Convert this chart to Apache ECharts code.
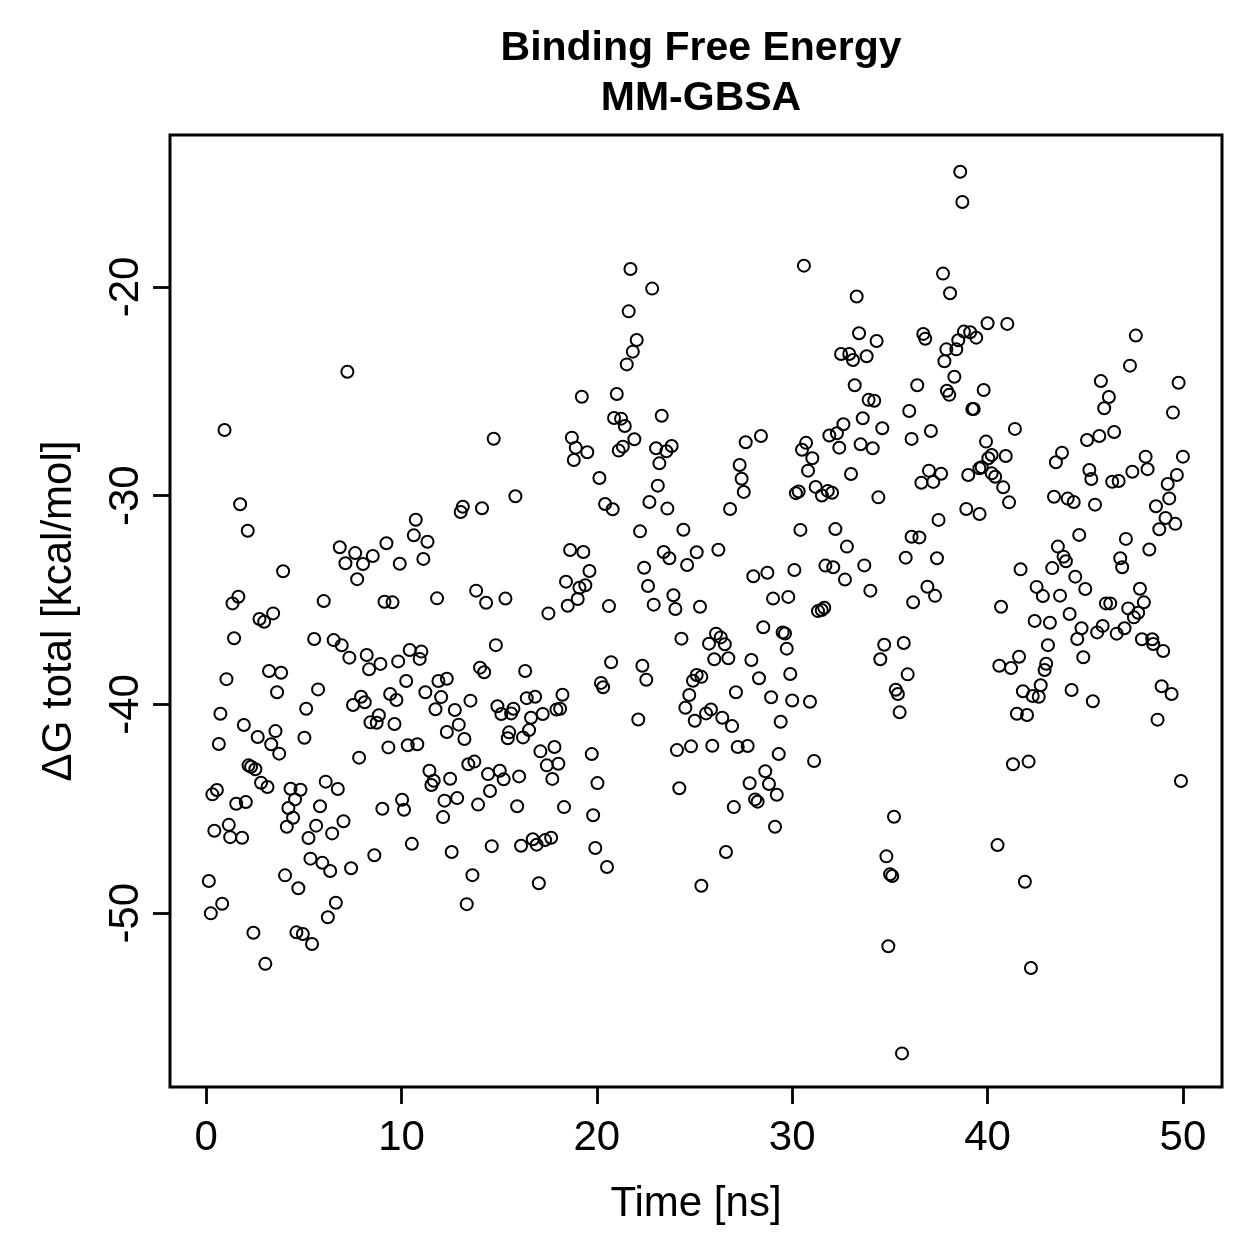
<!DOCTYPE html>
<html>
<head>
<meta charset="utf-8">
<script src="https://cdn.jsdelivr.net/npm/echarts@6/dist/echarts.min.js"></script>
<style>
html,body{margin:0;padding:0;background:#fff;}
#chart{width:1259px;height:1259px;}
</style>
</head>
<body>
<div id="chart"></div>
<script>
// Chart texts
const titleText = 'Binding Free Energy\nMM-GBSA';
const xAxisTitle = 'Time [ns]';
const yAxisTitle = '\u0394G total [kcal/mol]';
const xTicks = [0, 10, 20, 30, 40, 50];
const yTicks = [-50, -40, -30, -20];

// [time (ns), ΔG total (kcal/mol)], by region
const ptsEarlyUpper = [[7.23,-24.06],[0.94,-26.85],[1.74,-30.41],[2.13,-31.68],[3.94,-33.62],[6.84,-32.47],[7.63,-32.75],[7.13,-33.24],[8.03,-33.27],[7.73,-34.00],[8.53,-32.89],[9.23,-32.28],[9.91,-33.26],[10.73,-31.15],[10.63,-31.90],[11.33,-32.21],[11.12,-33.03],[1.65,-34.84],[1.35,-35.16],[6.02,-35.05],[9.13,-35.08],[9.54,-35.11],[11.82,-34.92]];

const ptsEarlyLower = [[2.73,-35.91],[2.97,-36.04],[3.43,-35.64],[1.43,-36.83],[5.53,-36.87],[6.53,-36.92],[6.94,-37.17],[7.33,-37.76],[8.22,-37.63],[8.34,-38.32],[8.92,-38.06],[9.83,-37.94],[10.42,-37.39],[11.02,-37.47],[10.93,-37.82],[10.24,-38.88],[11.89,-38.88],[12.32,-38.77],[1.04,-38.79],[3.22,-38.40],[3.84,-38.48],[3.63,-39.42],[5.73,-39.28],[7.93,-39.63],[8.12,-39.90],[7.52,-40.03],[9.42,-39.50],[9.74,-39.79],[11.22,-39.42],[12.03,-39.65],[11.74,-40.23],[0.73,-40.45],[5.12,-40.21],[1.93,-40.99],[2.64,-41.56],[3.55,-41.28],[3.33,-41.91],[3.74,-42.36],[5.03,-41.60],[0.65,-41.90],[8.84,-40.52],[8.41,-40.86],[8.73,-40.88],[9.64,-40.94],[9.33,-42.06],[10.32,-41.96],[10.81,-41.91],[12.32,-41.32],[7.83,-42.55],[2.17,-42.92],[2.30,-42.99],[2.52,-43.11],[2.81,-43.75],[3.14,-43.96],[0.55,-44.10],[0.32,-44.31],[1.54,-44.76],[2.03,-44.68],[4.32,-44.04],[4.83,-44.09],[4.55,-44.55],[4.21,-44.96],[4.45,-45.43],[4.13,-45.86],[6.12,-43.70],[6.74,-44.05],[5.83,-44.88],[5.63,-45.81],[5.24,-46.40],[6.45,-46.18],[7.03,-45.60],[11.43,-43.18],[11.65,-43.66],[11.53,-43.86],[12.49,-43.56],[10.03,-44.57],[10.13,-45.05],[9.02,-45.00],[12.20,-44.61],[12.13,-45.40],[0.42,-46.05],[1.16,-45.77],[1.23,-46.36],[1.84,-46.39],[10.53,-46.68],[8.61,-47.23],[12.57,-47.07],[5.34,-47.39],[5.95,-47.59],[6.35,-47.98],[7.42,-47.85],[0.14,-48.46],[4.04,-48.19],[4.72,-48.81],[0.82,-49.55],[0.24,-50.01],[6.64,-49.50],[6.23,-50.20],[2.42,-50.94],[4.62,-50.92],[4.95,-51.00],[5.42,-51.48],[3.03,-52.43]];

const ptsMidUpper = [[21.72,-19.14],[22.83,-20.08],[21.63,-21.17],[22.04,-22.54],[21.84,-23.10],[21.53,-23.71],[19.23,-25.26],[21.02,-25.13],[23.32,-26.17],[20.88,-26.28],[21.24,-26.31],[21.43,-26.66],[14.72,-27.27],[18.72,-27.22],[18.92,-27.70],[19.51,-27.92],[18.82,-28.29],[21.92,-27.30],[21.33,-27.65],[21.12,-27.84],[23.03,-27.73],[23.83,-27.62],[23.56,-27.87],[23.20,-28.45],[20.13,-29.15],[23.12,-29.52],[22.69,-30.30],[23.61,-30.62],[20.42,-30.40],[20.81,-30.65],[15.83,-30.03],[13.14,-30.53],[13.03,-30.78],[14.12,-30.60],[22.21,-31.71],[24.43,-31.63],[25.11,-32.71],[23.42,-32.70],[23.71,-33.00],[24.62,-33.32],[22.42,-33.45],[22.62,-34.33],[23.92,-34.77],[18.63,-32.60],[19.31,-32.70],[19.62,-33.61],[18.42,-34.12],[19.11,-34.41],[19.41,-34.29],[19.02,-34.95],[18.51,-35.27],[20.62,-35.29],[22.91,-35.22],[24.02,-35.43],[13.82,-34.55],[14.33,-35.13],[15.32,-34.93],[17.52,-35.64]];

const ptsMidLower = [[25.28,-35.32],[14.83,-37.16],[14.02,-38.24],[14.23,-38.46],[16.33,-38.40],[13.53,-39.82],[12.73,-40.27],[12.93,-40.97],[13.22,-41.66],[14.91,-40.09],[15.11,-40.46],[15.73,-40.21],[15.61,-40.43],[16.41,-39.70],[16.84,-39.63],[18.24,-39.54],[17.23,-40.46],[17.93,-40.25],[18.12,-40.21],[16.63,-40.64],[15.51,-41.34],[15.44,-41.62],[16.22,-41.58],[16.53,-41.23],[17.11,-42.25],[17.83,-42.04],[17.44,-42.92],[18.03,-42.84],[17.72,-43.57],[13.42,-42.87],[13.73,-42.74],[14.43,-43.34],[15.03,-43.18],[15.23,-43.59],[16.02,-43.45],[14.53,-44.15],[12.85,-44.49],[13.92,-44.80],[15.92,-44.88],[18.32,-44.92],[14.62,-46.79],[16.12,-46.77],[16.72,-46.46],[16.92,-46.72],[17.35,-46.50],[17.66,-46.39],[13.63,-48.18],[17.03,-48.57],[13.34,-49.57],[19.74,-42.38],[20.03,-43.77],[19.81,-45.31],[19.92,-46.88],[20.52,-47.79],[20.73,-37.98],[20.21,-38.97],[20.32,-39.18],[22.33,-38.15],[22.53,-38.82],[22.12,-40.72],[24.33,-36.85],[24.92,-38.87],[25.11,-38.59],[24.73,-39.55],[24.53,-40.16],[25.01,-40.78],[24.10,-42.19],[24.82,-42.01],[24.22,-44.02],[25.35,-48.69]];

const ptsLateUpper = [[30.60,-18.98],[37.72,-19.36],[38.08,-20.30],[33.30,-20.46],[33.42,-22.22],[34.32,-22.59],[32.50,-23.21],[32.92,-23.21],[33.11,-23.50],[33.81,-23.32],[36.71,-22.25],[36.81,-22.48],[37.89,-22.99],[37.79,-23.56],[38.30,-24.30],[33.20,-24.71],[36.40,-24.71],[33.91,-25.41],[34.20,-25.45],[37.92,-24.97],[38.04,-25.17],[35.99,-25.94],[33.61,-26.29],[34.61,-26.77],[32.62,-26.58],[32.29,-27.01],[31.90,-27.12],[32.41,-27.70],[33.50,-27.54],[34.12,-27.73],[37.10,-26.90],[36.11,-27.28],[27.62,-27.44],[28.40,-27.14],[30.71,-27.47],[30.50,-27.80],[31.03,-28.21],[30.81,-28.80],[33.01,-28.96],[27.31,-28.53],[27.41,-29.19],[27.52,-29.82],[26.82,-30.64],[37.00,-28.80],[37.62,-28.95],[36.61,-29.38],[37.22,-29.34],[34.41,-30.08],[30.19,-29.88],[30.33,-29.80],[31.20,-29.58],[31.52,-29.99],[31.82,-29.77],[32.04,-29.86],[37.49,-31.16],[30.42,-31.64],[32.21,-31.60],[32.80,-32.44],[36.11,-31.97],[36.51,-32.00],[35.81,-32.97],[37.41,-33.00],[26.22,-32.59],[28.01,-33.86],[28.73,-33.69],[30.11,-33.56],[31.70,-33.35],[32.10,-33.43],[33.69,-33.34],[32.70,-34.02],[34.00,-34.55],[36.92,-34.36],[37.31,-34.80],[36.19,-35.11],[29.02,-34.93],[29.80,-34.85]];

const ptsLateLower = [[31.32,-35.53],[31.51,-35.48],[31.64,-35.37],[28.52,-36.30],[26.10,-36.61],[26.34,-36.79],[26.55,-37.12],[25.74,-37.09],[29.51,-36.55],[29.63,-36.60],[29.72,-37.33],[26.01,-37.84],[26.73,-37.79],[27.91,-37.87],[28.30,-38.75],[29.90,-38.54],[25.35,-38.68],[27.12,-39.42],[28.92,-39.66],[30.00,-39.81],[30.91,-39.87],[25.84,-40.24],[25.59,-40.43],[26.42,-40.64],[26.92,-41.04],[29.41,-40.83],[25.91,-41.98],[27.21,-42.04],[27.72,-41.99],[29.31,-42.38],[31.12,-42.71],[28.62,-43.20],[27.82,-43.78],[28.81,-43.81],[29.21,-44.33],[28.10,-44.55],[28.23,-44.66],[27.01,-44.92],[29.12,-45.86],[26.61,-47.07],[34.71,-37.14],[35.71,-37.06],[34.51,-37.84],[35.91,-38.56],[35.30,-39.30],[35.41,-39.50],[35.50,-40.38],[35.21,-45.38],[34.82,-47.28],[35.01,-48.14],[35.12,-48.22],[34.92,-51.59],[35.62,-56.72]];

const ptsEndUpper = [[38.60,-14.48],[38.71,-15.93],[40.00,-21.74],[41.01,-21.77],[38.79,-22.14],[39.11,-22.17],[38.50,-22.55],[39.42,-22.43],[38.40,-22.99],[39.80,-24.94],[39.22,-25.85],[39.29,-25.85],[41.40,-26.80],[39.92,-27.41],[40.21,-28.05],[40.93,-28.10],[40.04,-28.21],[39.01,-29.01],[39.58,-28.69],[39.70,-28.64],[40.21,-28.93],[40.39,-29.09],[40.80,-29.60],[41.10,-30.32],[38.91,-30.64],[39.59,-30.88],[47.59,-22.33],[47.29,-23.77],[45.80,-24.51],[46.21,-25.27],[45.97,-25.81],[49.78,-24.59],[49.49,-26.02],[45.09,-27.33],[45.72,-27.14],[46.48,-26.95],[43.81,-27.94],[43.50,-28.40],[48.09,-28.13],[48.19,-28.73],[50.00,-28.13],[45.21,-28.77],[45.31,-29.20],[46.38,-29.33],[46.71,-29.30],[47.41,-28.85],[49.69,-29.01],[49.22,-29.44],[49.30,-30.13],[48.62,-30.51],[49.11,-31.07],[49.61,-31.35],[48.79,-31.61],[43.40,-30.05],[44.10,-30.14],[44.41,-30.30],[45.50,-30.43],[44.69,-31.88],[47.08,-32.07],[48.28,-32.58],[46.79,-33.00],[46.89,-33.43],[43.60,-32.44],[43.89,-32.92],[44.01,-33.14],[43.31,-33.47],[41.69,-33.53],[44.49,-33.88],[45.00,-34.47],[42.51,-34.37],[42.83,-34.81],[43.71,-34.79],[47.80,-34.46],[48.00,-35.11],[46.06,-35.16],[46.28,-35.16],[47.20,-35.40],[40.69,-35.32]];

const ptsEndLower = [[42.41,-36.00],[43.19,-36.09],[44.20,-35.67],[44.81,-36.35],[44.59,-36.87],[45.89,-36.24],[45.61,-36.55],[46.61,-36.61],[47.01,-36.35],[47.49,-35.83],[47.71,-35.61],[47.90,-36.88],[48.43,-36.88],[48.48,-37.11],[48.99,-37.44],[43.09,-37.16],[41.61,-37.72],[40.60,-38.15],[41.20,-38.26],[43.00,-38.05],[42.92,-38.35],[44.90,-37.74],[42.72,-39.08],[41.81,-39.37],[42.31,-39.60],[42.62,-39.63],[44.30,-39.31],[45.39,-39.85],[41.50,-40.45],[42.02,-40.51],[48.91,-39.13],[49.42,-39.50],[48.70,-40.73],[41.30,-42.87],[42.10,-42.74],[49.90,-43.67],[40.51,-46.74],[41.91,-48.50],[42.22,-52.63]];

const allPoints = [].concat(ptsEarlyUpper, ptsEarlyLower, ptsMidUpper, ptsMidLower,
  ptsLateUpper, ptsLateLower, ptsEndUpper, ptsEndLower);

const FONT = '"Liberation Sans", Arial, Helvetica, sans-serif';

const chart = echarts.init(document.getElementById('chart'), null, {renderer: 'canvas'});
chart.setOption({
  backgroundColor: '#ffffff',
  animation: false,
  title: {
    text: titleText,
    left: 696,
    top: 19,
    textAlign: 'center',
    textStyle: {fontFamily: FONT, fontWeight: 'bold', fontSize: 41, lineHeight: 50, color: '#000'}
  },
  grid: {
    left: 170, right: 37, top: 135, bottom: 172,
    show: true, borderColor: '#000', borderWidth: 3, backgroundColor: 'transparent',
    containLabel: false
  },
  xAxis: {
    type: 'value',
    min: -1.85, max: 52,
    name: xAxisTitle,
    nameLocation: 'middle',
    nameGap: 96,
    nameTextStyle: {fontFamily: FONT, fontSize: 42, color: '#000'},
    axisLine: {show: false, onZero: false},
    splitLine: {show: false},
    axisTick: {show: true, length: 17, lineStyle: {color: '#000', width: 2.8}, customValues: xTicks},
    axisLabel: {fontFamily: FONT, fontSize: 42, color: '#000', margin: 30, customValues: xTicks}
  },
  yAxis: {
    type: 'value',
    min: -58.33, max: -12.72,
    name: yAxisTitle,
    nameLocation: 'middle',
    nameRotate: 90,
    nameGap: 90,
    nameTextStyle: {fontFamily: FONT, fontSize: 42, color: '#000'},
    axisLine: {show: false, onZero: false},
    splitLine: {show: false},
    axisTick: {show: true, length: 17, lineStyle: {color: '#000', width: 2.8}, customValues: yTicks},
    axisLabel: {fontFamily: FONT, fontSize: 42, color: '#000', margin: 23, rotate: 90, customValues: yTicks}
  },
  series: [{
    type: 'scatter',
    data: allPoints,
    symbol: 'circle',
    symbolSize: 12,
    itemStyle: {color: 'rgba(0,0,0,0)', borderColor: '#000', borderWidth: 2, opacity: 1},
    emphasis: {disabled: true}
  }]
});
</script>
</body>
</html>
